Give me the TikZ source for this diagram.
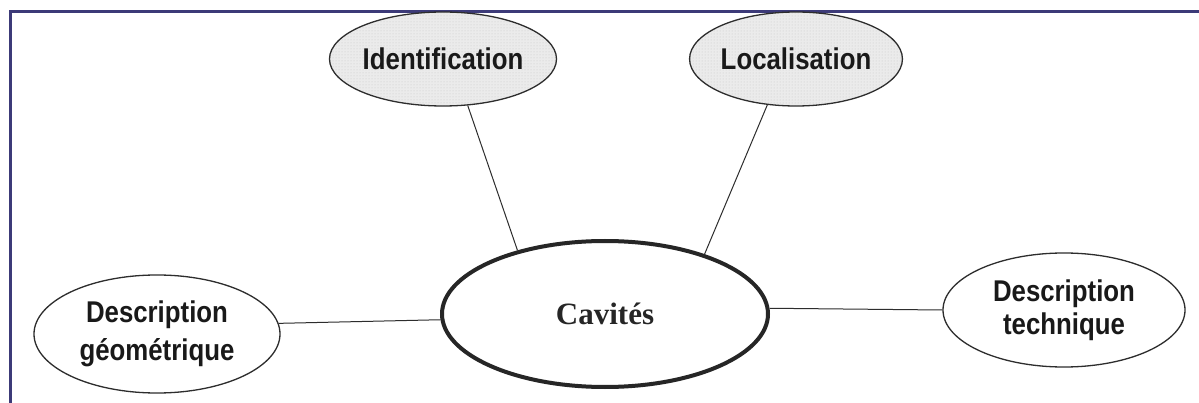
\documentclass[tikz,border=0pt]{standalone}
\usepackage{fontspec}
\setmainfont{Liberation Serif}
\newfontfamily\narrowsans[FakeStretch=0.86]{Liberation Sans}
\usetikzlibrary{shapes.geometric,patterns}
\definecolor{framecol}{RGB}{60,58,120}
\definecolor{edgecol}{RGB}{45,45,45}
\tikzset{
  topic/.style={ellipse, draw=edgecol, line width=1.3pt, inner sep=0pt, align=center,
    font=\narrowsans\bfseries\fontsize{30}{37}\selectfont, text=black!90},
  dotted fill/.style={preaction={fill=black!8}, pattern=dots, pattern color=black!22},
  core/.style={ellipse, draw=black!85, line width=4pt, inner sep=0pt, fill=white,
    font=\bfseries\fontsize{31}{36}\selectfont, text=black!85},
  link/.style={draw=edgecol, line width=1pt}
}
\begin{document}
\begin{tikzpicture}[x=1pt,y=-1pt]
\useasboundingbox (0,0) rectangle (1199,403);
\fill[white] (0,0) rectangle (1199,403);
\draw[framecol, line width=3pt] (10,403) -- (10,12) -- (1199,12);
\node[core, minimum width=326pt, minimum height=146pt] (cav) at (605,314) {Cavit\'es};
\node[topic, dotted fill, minimum width=180pt, minimum height=94pt] (id) at (443,59) {Identification};
\node[topic, dotted fill, minimum width=172pt, minimum height=94pt] (loc) at (796,59) {Localisation};
\node[topic, fill=white, minimum width=246pt, minimum height=118pt] (geo) at (157,334) {Description\\[1pt]g\'eom\'etrique};
\node[topic, fill=white, minimum width=242pt, minimum height=114pt] (tech) at (1064,310) {Description\\[-4pt]technique};
\draw[link] (id.298) -- (cav.144);
\draw[link] (loc.238) -- (cav.31);
\draw[link] (geo.5) -- (cav.182);
\draw[link] (cav.2) -- (tech.180);
\end{tikzpicture}
\end{document}
